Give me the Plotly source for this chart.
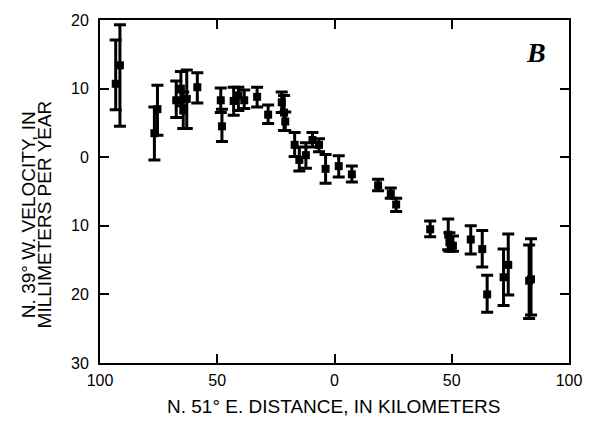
import plotly.graph_objects as go

# Data (distance km, velocity mm/yr, error range)
x_km = [-93.3, -91.5, -76.8, -75.5, -67.5, -65.5, -64.5, -63.0, -58.5,
        -48.5, -48.0, -43.0, -41.0, -38.5, -33.0, -28.3, -22.5, -21.5, -21.0,
        -17.0, -15.0, -12.2, -9.4, -6.6, -3.8, 1.8, 7.4, 18.6, 24.0, 26.3,
        40.8, 48.5, 49.0, 50.5, 58.1, 63.0, 65.1, 72.1, 74.1, 83.0, 83.8]
velocity = [10.7, 13.4, 3.5, 7.0, 8.3, 10.0, 6.8, 8.5, 10.2,
            8.3, 4.5, 8.2, 9.0, 8.3, 8.8, 6.2, 8.0, 6.5, 5.2,
            1.8, -0.4, 0.3, 2.5, 1.8, -1.7, -1.3, -2.5, -4.1, -5.3, -6.9,
            -10.5, -11.3, -12.4, -12.9, -12.0, -13.4, -20.0, -17.5, -15.7, -18.0, -17.8]
v_low = [6.9, 4.5, -0.4, 3.2, 5.8, 7.5, 4.2, 4.2, 7.9,
         6.5, 2.3, 6.1, 6.8, 7.1, 7.3, 4.9, 6.5, 3.9, 3.9,
         0.1, -2.0, -1.6, 1.5, 0.8, -3.8, -2.9, -3.6, -4.9, -6.0, -7.9,
         -11.6, -13.5, -13.7, -13.7, -14.1, -16.0, -22.6, -21.6, -20.1, -23.5, -23.0]
v_high = [17.1, 19.3, 7.3, 10.5, 11.1, 12.5, 9.5, 12.7, 12.3,
          10.1, 7.0, 10.2, 10.2, 9.8, 10.2, 7.6, 9.5, 9.0, 6.6,
          3.6, 1.5, 2.1, 3.6, 2.7, 0.4, 0.2, -1.3, -3.2, -4.5, -6.0,
          -9.3, -9.0, -11.0, -11.5, -10.0, -10.7, -17.2, -13.4, -11.2, -12.8, -11.9]

x_ticks = [-100, -50, 0, 50, 100]
x_ticktext = ["100", "50", "0", "50", "100"]
y_ticks = [-30, -20, -10, 0, 10, 20]
y_ticktext = ["30", "20", "10", "0", "10", "20"]

err_plus = [h - v for h, v in zip(v_high, velocity)]
err_minus = [v - l for l, v in zip(v_low, velocity)]

FONT = "Liberation Sans, Arial, sans-serif"

fig = go.Figure()
fig.add_trace(go.Scatter(
    x=x_km, y=velocity, mode="markers",
    marker=dict(symbol="square", size=8, color="black"),
    error_y=dict(type="data", symmetric=False, array=err_plus, arrayminus=err_minus,
                 thickness=3, width=6, color="black"),
    showlegend=False, hoverinfo="skip"))

axis_common = dict(showgrid=False, zeroline=False, showline=True, linecolor="black",
                   linewidth=1.8, mirror="ticks", ticks="inside", ticklen=9,
                   tickwidth=1.5, tickcolor="black",
                   tickfont=dict(family=FONT, size=16, color="black"))

fig.update_layout(
    width=594, height=425,
    margin=dict(l=100, r=17, t=19, b=62),
    paper_bgcolor="white", plot_bgcolor="white",
    xaxis=dict(range=[-100, 100], tickvals=x_ticks, ticktext=x_ticktext,
               ticklabelstandoff=2, **axis_common),
    yaxis=dict(range=[-30, 20], tickvals=y_ticks, ticktext=y_ticktext,
               ticklabelstandoff=6, **axis_common),
)

ytitle_center = 214
fig.add_annotation(text="N. 39° W. VELOCITY, IN", xref="paper", yref="paper",
                   x=(27.5 - 100) / 477, y=(363 - ytitle_center) / 344, textangle=-90,
                   showarrow=False, xanchor="center", yanchor="middle",
                   font=dict(family=FONT, size=19, color="black"))
fig.add_annotation(text="MILLIMETERS PER YEAR", xref="paper", yref="paper",
                   x=(43 - 100) / 477, y=(363 - ytitle_center) / 344, textangle=-90,
                   showarrow=False, xanchor="center", yanchor="middle",
                   font=dict(family=FONT, size=19, color="black"))
fig.add_annotation(text="N. 51° E. DISTANCE, IN KILOMETERS", xref="paper", yref="paper",
                   x=(337.5 - 100) / 477, y=(363 - 407) / 344,
                   showarrow=False, xanchor="center", yanchor="middle",
                   font=dict(family=FONT, size=19, color="black"))
fig.add_annotation(text="<b><i>B</i></b>", xref="paper", yref="paper",
                   x=(543 - 100) / 477, y=(363 - 52) / 344,
                   showarrow=False, xanchor="center", yanchor="middle",
                   font=dict(family="Liberation Serif, Times New Roman, serif", size=28, color="black"))

fig.write_html("out.html")
